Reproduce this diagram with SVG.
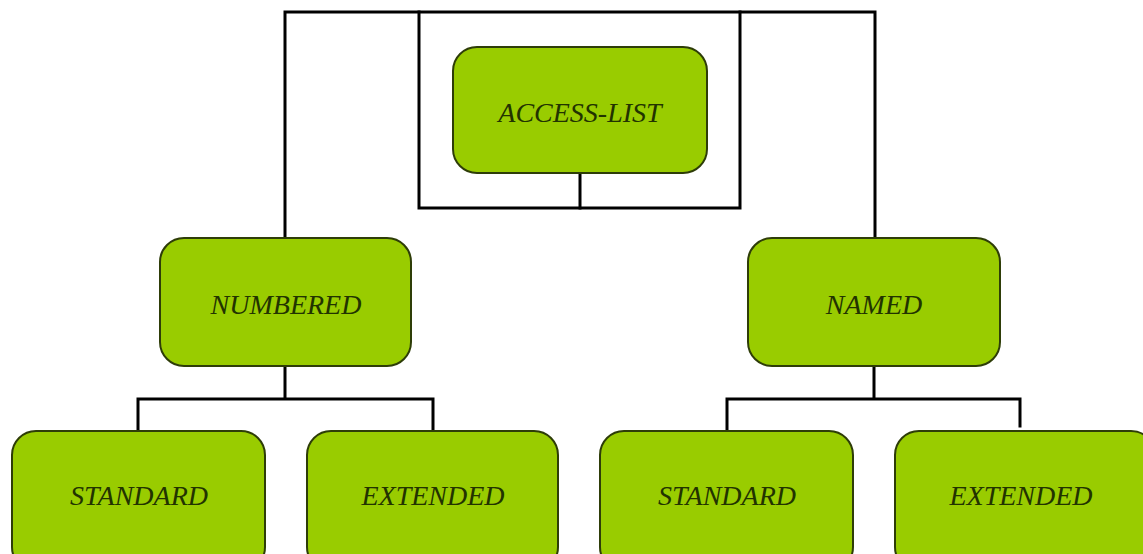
<svg xmlns="http://www.w3.org/2000/svg" width="1143" height="554" viewBox="0 0 1143 554">
<style>
.box{fill:#99cc00;stroke:#2e3d08;stroke-width:2}
.lbl{font-family:"Liberation Serif","Times New Roman",serif;font-style:italic;font-size:28px;fill:#223300;text-anchor:middle}
.ln{fill:none;stroke:#000;stroke-width:3;stroke-linejoin:miter;stroke-linecap:square}
</style>
<rect width="1143" height="554" fill="#fff"/>
<g id="connectors">
<path class="ln" d="M285,238 V12 H875 V238"/>
<path class="ln" d="M419,12 V208 H740 V12"/>
<path class="ln" d="M580,173 V208"/>
<path class="ln" d="M285,366 V399 M138,431 V399 H433 V431"/>
<path class="ln" d="M874,366 V399 M727,431 V399 H1020 V426"/>
</g>
<g id="access-list"><rect class="box" x="453" y="47" width="254" height="126" rx="24"/><text class="lbl" x="580" y="122">ACCESS-LIST</text></g>
<g id="numbered"><rect class="box" x="160" y="238" width="251" height="128" rx="24"/><text class="lbl" x="286" y="314">NUMBERED</text></g>
<g id="named"><rect class="box" x="748" y="238" width="252" height="128" rx="24"/><text class="lbl" x="874" y="314">NAMED</text></g>
<g id="standard-1"><rect class="box" x="12" y="431" width="253" height="140" rx="24"/><text class="lbl" x="139" y="505">STANDARD</text></g>
<g id="extended-1"><rect class="box" x="307" y="431" width="251" height="140" rx="24"/><text class="lbl" x="433" y="505">EXTENDED</text></g>
<g id="standard-2"><rect class="box" x="600" y="431" width="253" height="140" rx="24"/><text class="lbl" x="727" y="505">STANDARD</text></g>
<g id="extended-2"><rect class="box" x="895" y="431" width="260" height="140" rx="24"/><text class="lbl" x="1021" y="505">EXTENDED</text></g>
</svg>
